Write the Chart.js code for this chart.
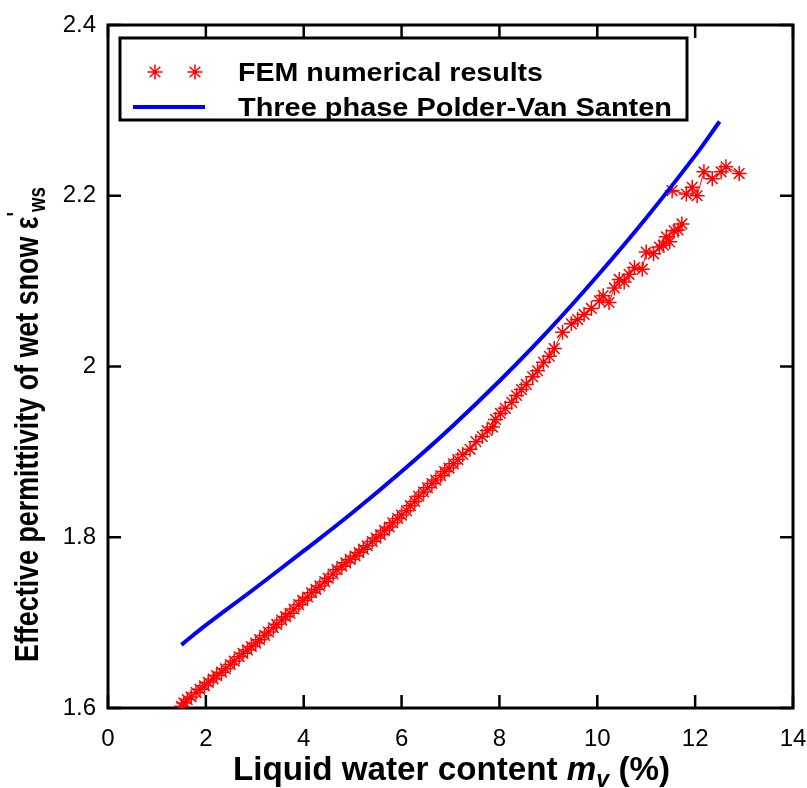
<!DOCTYPE html>
<html>
<head>
<meta charset="utf-8">
<script src="https://cdn.jsdelivr.net/npm/chart.js@4"></script>
<style>
  html, body { margin:0; padding:0; background:#fff; }
</style>
</head>
<body>
<canvas id="chart" width="807" height="788"></canvas>
<script>
// data
const femX = [1.50,1.55,1.62,1.70,1.80,1.88,1.97,2.05,2.15,2.22,2.32,2.40,2.50,2.58,2.68,2.76,2.85,2.93,3.02,3.10,
  3.20,3.28,3.38,3.45,3.55,3.63,3.72,3.80,3.90,3.98,4.08,4.16,4.25,4.33,4.43,4.50,4.60,4.68,4.78,4.86,
  4.95,5.05,5.13,5.22,5.30,5.40,5.48,5.57,5.65,5.75,5.82,5.92,6.00,6.10,6.18,6.27,6.35,6.45,6.53,6.62,
  6.70,6.80,6.88,6.97,7.06,7.15,7.25,7.40,7.52,7.65,7.75,7.86,7.92,8.02,8.12,8.25,8.35,8.45,8.55,8.68,
  8.78,8.90,9.02,9.12,9.29,9.47,9.60,9.73,9.88,10.04,10.12,10.24,10.35,10.45,10.55,10.65,10.76,10.92,11.00,11.15,
  11.27,11.35,11.41,11.48,11.57,11.65,11.73];
const femY = [1.602,1.606,1.610,1.613,1.618,1.622,1.626,1.630,1.634,1.638,1.642,1.646,1.651,1.655,1.660,1.664,1.668,1.672,1.676,1.680,
  1.685,1.689,1.694,1.698,1.703,1.707,1.711,1.716,1.721,1.726,1.730,1.735,1.739,1.743,1.748,1.752,1.757,1.762,1.766,1.770,
  1.774,1.778,1.782,1.786,1.790,1.795,1.799,1.803,1.808,1.812,1.817,1.822,1.826,1.831,1.837,1.842,1.848,1.853,1.858,1.863,
  1.867,1.872,1.877,1.881,1.886,1.891,1.897,1.903,1.912,1.918,1.925,1.929,1.938,1.945,1.951,1.958,1.966,1.973,1.979,1.988,
  1.995,2.005,2.012,2.021,2.040,2.050,2.055,2.061,2.068,2.077,2.083,2.075,2.092,2.102,2.099,2.108,2.116,2.114,2.134,2.132,
  2.140,2.142,2.152,2.146,2.159,2.160,2.167];
const femUpperX = [11.53,11.82,11.94,12.04,12.18,12.35,12.53,12.63,12.90];
const femUpperY = [2.206,2.202,2.210,2.200,2.228,2.220,2.228,2.234,2.226];

const pvsX = [1.5,2,3,4,5,6,7,8,9,10,11,12,12.5];
const pvsY = [1.674,1.697,1.740,1.784,1.829,1.877,1.928,1.983,2.042,2.106,2.174,2.247,2.287];

const xTicks = [0,2,4,6,8,10,12,14];
const yTicks = [1.6,1.8,2,2.2,2.4];

const labels = ['FEM numerical results', 'Three phase Polder-Van Santen'];

const RED = '#ff0000';
const BLUE = '#0000ff';
const FONT = '"Liberation Sans", Arial, sans-serif';

const pts = (xs, ys) => xs.map((x,i)=>({x, y: ys[i]}));

// draw a run of differently styled text pieces, squeezed to a given width
function fitText(ctx, segs, x, y, width, rotate){
  let total = 0;
  segs.forEach(s=>{ ctx.font = s.font; s.w = ctx.measureText(s.text).width; total += s.w; });
  const k = width / total;
  ctx.save();
  ctx.translate(x, y);
  if (rotate) ctx.rotate(-Math.PI/2);
  ctx.scale(k, 1);
  ctx.fillStyle = '#000';
  ctx.textBaseline = 'alphabetic';
  ctx.textAlign = 'left';
  let cx = 0;
  segs.forEach(s=>{
    ctx.font = s.font;
    ctx.fillText(s.text, cx, s.dy || 0);
    cx += s.w;
  });
  ctx.restore();
}

const decor = {
  id: 'decor',
  beforeDatasetsDraw(chart){
    const {ctx, chartArea:a, scales} = chart;
    ctx.save();
    ctx.strokeStyle = '#000';
    ctx.lineWidth = 3;
    ctx.strokeRect(a.left, a.top, a.right - a.left, a.bottom - a.top);
    // inward ticks on all four sides
    ctx.lineWidth = 2.5;
    ctx.beginPath();
    xTicks.forEach(v=>{
      const px = scales.x.getPixelForValue(v);
      ctx.moveTo(px, a.bottom); ctx.lineTo(px, a.bottom - 13);
      ctx.moveTo(px, a.top); ctx.lineTo(px, a.top + 13);
    });
    yTicks.forEach(v=>{
      const py = scales.y.getPixelForValue(v);
      ctx.moveTo(a.left, py); ctx.lineTo(a.left + 13, py);
      ctx.moveTo(a.right, py); ctx.lineTo(a.right - 13, py);
    });
    ctx.stroke();
    ctx.restore();
  },
  afterDraw(chart){
    const {ctx} = chart;
    // legend box
    ctx.save();
    ctx.fillStyle = '#fff';
    ctx.fillRect(120, 38, 567, 82);
    ctx.strokeStyle = '#000';
    ctx.lineWidth = 3;
    ctx.strokeRect(120, 38, 567, 82);
    ctx.strokeStyle = RED;
    ctx.fillStyle = 'rgba(0,0,0,0)';
    ctx.lineWidth = 1.5;
    [155, 195].forEach(px=>{
      Chart.helpers.drawPoint(ctx, {pointStyle:'star', radius:7.5, borderWidth:1.5, rotation:0}, px, 72);
    });
    ctx.strokeStyle = BLUE;
    ctx.lineWidth = 4;
    ctx.beginPath(); ctx.moveTo(133, 107); ctx.lineTo(205, 107); ctx.stroke();
    ctx.restore();
    fitText(ctx, [{text: labels[0], font: 'bold 25px ' + FONT}], 238, 81, 305, false);
    fitText(ctx, [{text: labels[1], font: 'bold 25px ' + FONT}], 238, 116, 434, false);

    // axis titles
    fitText(ctx, [
      {text:'Liquid water content ', font:'bold 33px ' + FONT},
      {text:'m', font:'italic bold 33px ' + FONT},
      {text:'v', font:'italic bold 23px ' + FONT, dy:7},
      {text:' (%)', font:'bold 33px ' + FONT}
    ], 233, 780, 437, false);
    fitText(ctx, [
      {text:'Effective permittivity of wet snow \u03b5', font:'bold 33px ' + FONT},
      {text:'\'', font:'bold 23px ' + FONT, dy:-14},
      {text:'ws', font:'bold 23px ' + FONT, dy:7}
    ], 38, 662, 475, true);
  }
};

const starSet = (label, data) => ({
  label,
  data,
  showLine: true,
  borderColor: RED,
  backgroundColor: RED,
  borderWidth: 1,
  pointStyle: 'star',
  pointRadius: 7.5,
  pointBorderWidth: 1.5,
  pointBorderColor: RED
});

new Chart(document.getElementById('chart'), {
  type: 'scatter',
  data: {
    datasets: [
      {
        label: labels[1],
        data: pts(pvsX, pvsY),
        showLine: true,
        borderColor: BLUE,
        borderWidth: 4,
        pointRadius: 0,
        tension: 0.4,
        fill: false
      },
      starSet(labels[0], pts(femX, femY)),
      starSet(labels[0], pts(femUpperX, femUpperY))
    ]
  },
  options: {
    responsive: false,
    devicePixelRatio: 1,
    animation: false,
    layout: { padding: { left: 0, right: 14, top: 25, bottom: 0 } },
    plugins: { legend: { display: false }, tooltip: { enabled: false } },
    scales: {
      x: {
        type: 'linear',
        min: 0, max: 14,
        afterBuildTicks: s => { s.ticks = xTicks.map(v=>({value:v})); },
        afterFit: s => { s.height = 80; s.paddingLeft = 0; s.paddingRight = 0; },
        grid: { display: false },
        border: { display: false },
        ticks: { color:'#000', font:{ family: FONT, size: 24 }, padding: 9, maxRotation: 0,
                 callback: v => String(v) }
      },
      y: {
        type: 'linear',
        min: 1.6, max: 2.4,
        afterBuildTicks: s => { s.ticks = yTicks.map(v=>({value:v})); },
        afterFit: s => { s.width = 108; s.paddingTop = 0; s.paddingBottom = 0; },
        grid: { display: false },
        border: { display: false },
        ticks: { color:'#000', font:{ family: FONT, size: 24 }, padding: 4,
                 callback: v => String(v) }
      }
    }
  },
  plugins: [decor]
});
</script>
</body>
</html>
